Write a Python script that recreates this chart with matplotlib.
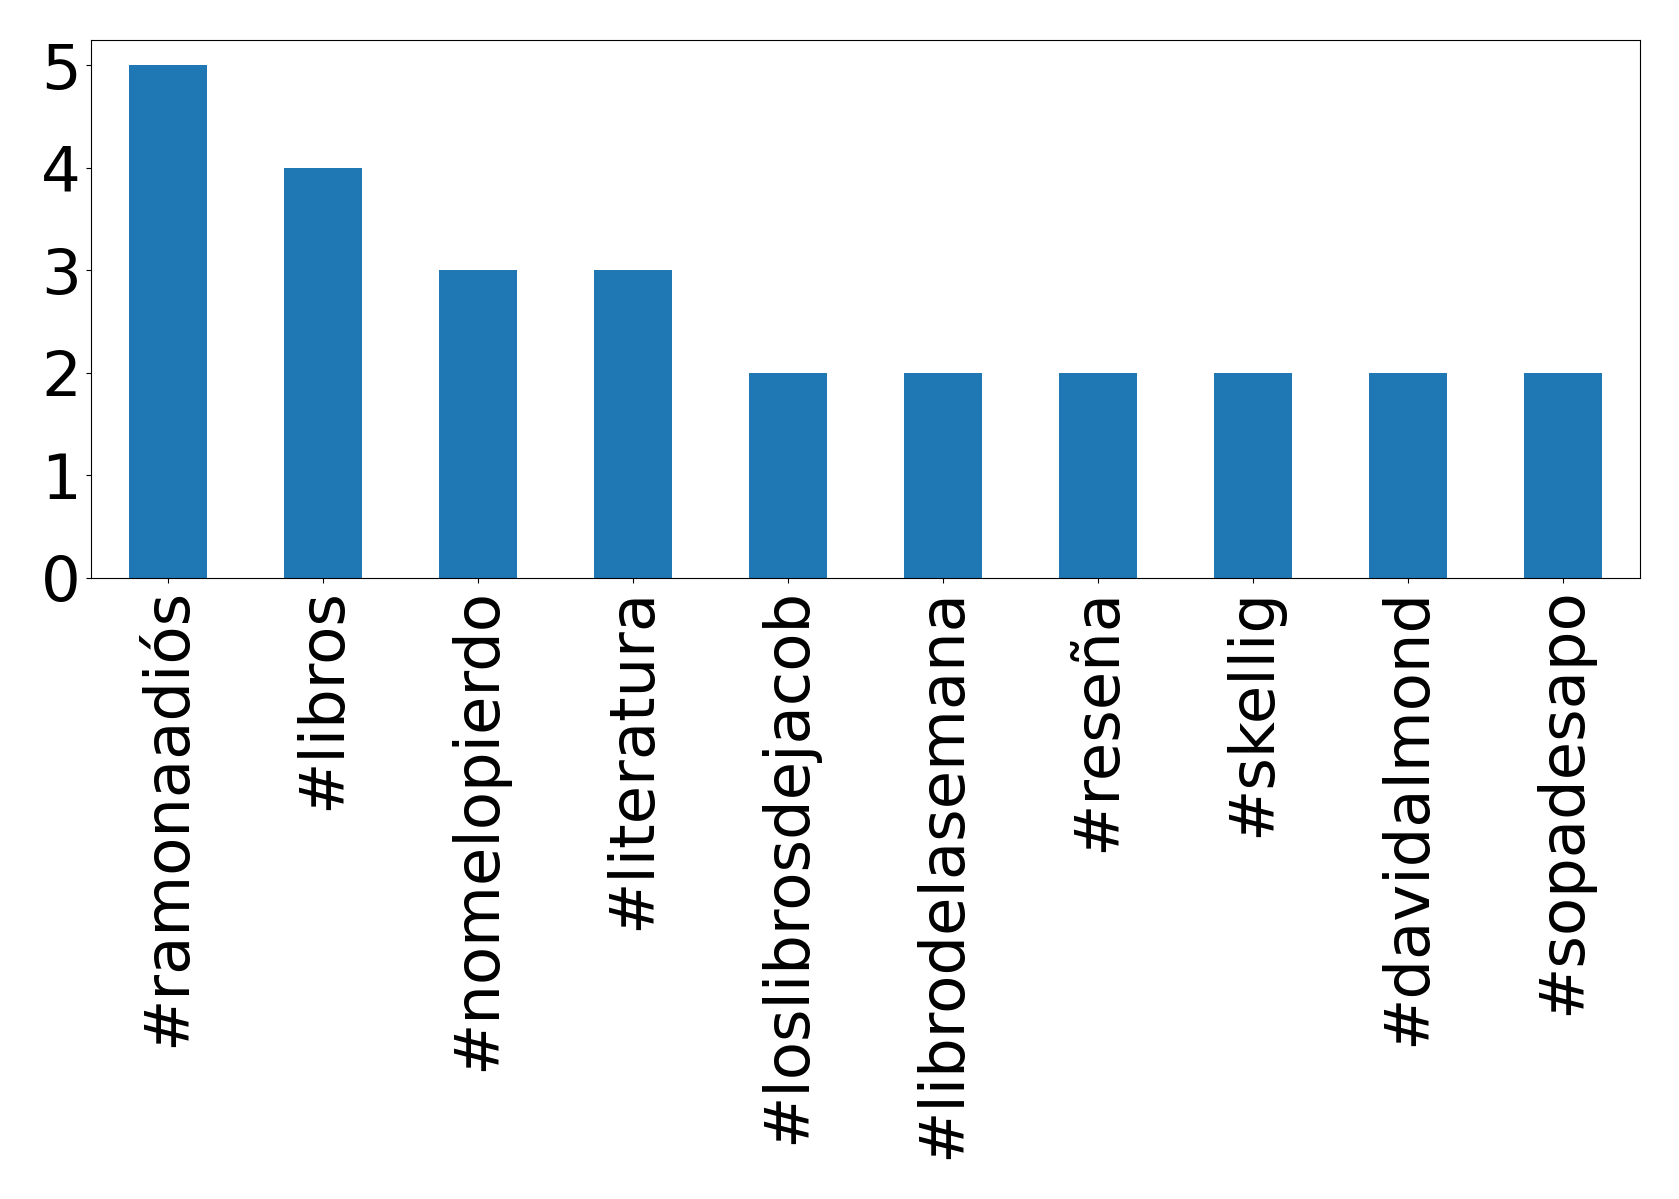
import matplotlib
matplotlib.use("Agg")
import matplotlib.pyplot as plt
import pandas as pd

hashtags = ["#ramonaadiós", "#libros", "#nomelopierdo", "#literatura",
            "#loslibrosdejacob", "#librodelasemana", "#reseña", "#skellig",
            "#davidalmond", "#sopadesapo"]
counts = [5, 4, 3, 3, 2, 2, 2, 2, 2, 2]

s = pd.Series(counts, index=hashtags)

fig = plt.figure(figsize=(16.79, 11.99), dpi=100)
ax = fig.add_axes([0.054, 0.518, 0.923, 0.449])
s.plot(kind="bar", ax=ax, color="#1f77b4", fontsize=45)
ax.set_yticks([0, 1, 2, 3, 4, 5])
ax.tick_params(axis="both", labelsize=45)
fig.savefig("out.png", dpi=100)
